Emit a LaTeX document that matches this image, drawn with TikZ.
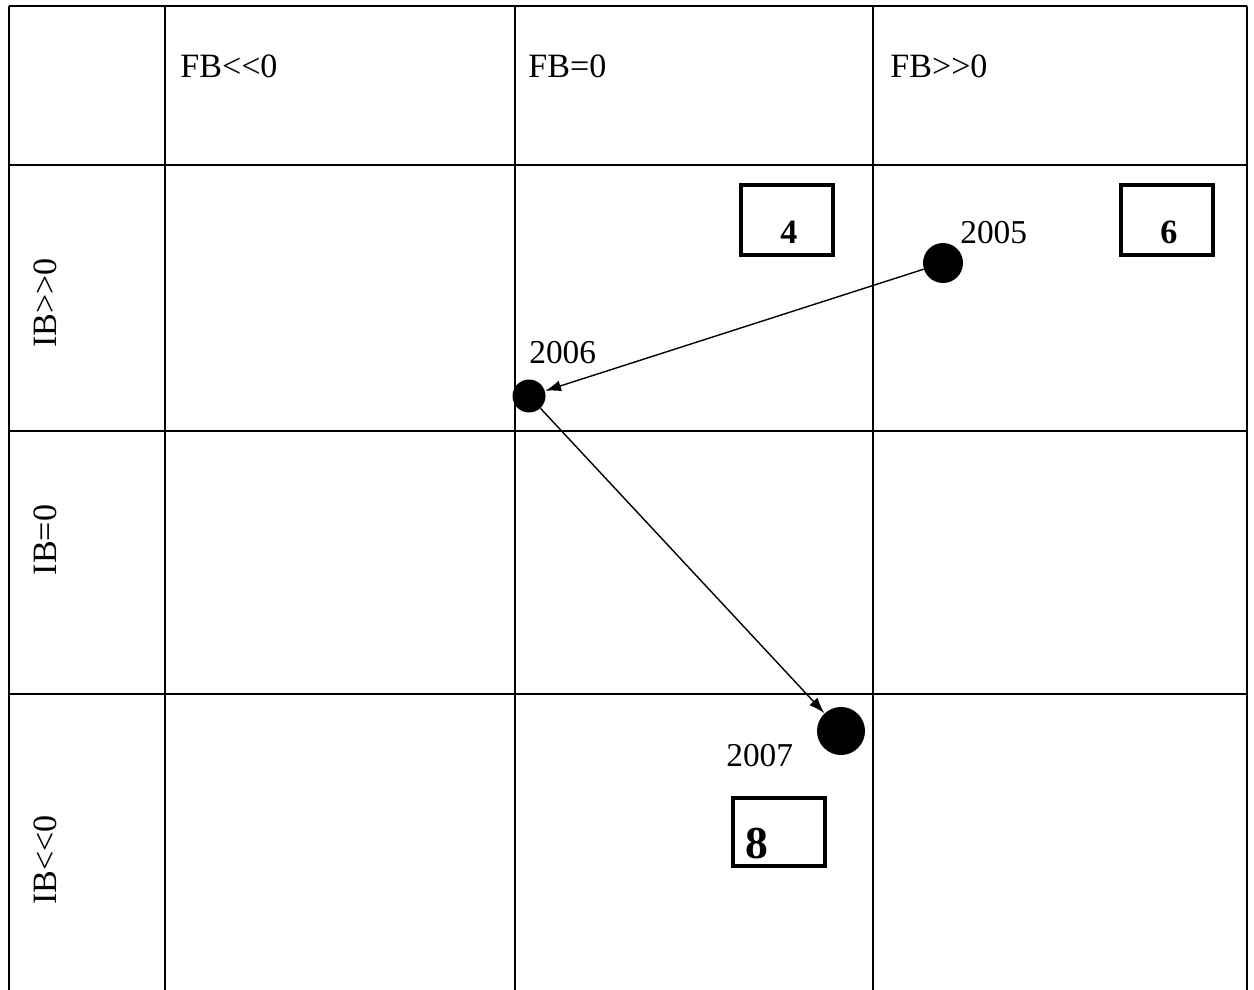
\documentclass[tikz,border=0pt]{standalone}
\usepackage{fontspec}
\setmainfont{Liberation Serif}
\usetikzlibrary{arrows.meta}

\tikzset{
	gridline/.style={line width=1.1pt},
	dot/.style={circle, fill=black, inner sep=0pt},
	head/.style={anchor=base west, inner sep=0pt, font=\fontsize{19.4}{23}\selectfont},
	side/.style={rotate=90, anchor=base, inner sep=0pt, font=\fontsize{19.4}{23}\selectfont},
	year/.style={anchor=base west, inner sep=0pt, font=\fontsize{19}{23}\selectfont},
	numbox/.style={draw, line width=2.3pt, minimum width=1.84cm, minimum height=1.4cm, inner sep=0pt},
	num/.style={anchor=base, font=\bfseries\fontsize{19.4}{23}\selectfont},
	arr/.style={-{Latex[length=0.32cm, width=0.22cm]}, line width=0.8pt}
}

\begin{document}
\begin{tikzpicture}[x=0.02cm, y=-0.02cm]
				\useasboundingbox (0,0) rectangle (1254,990);
				% grid
				\foreach \x in {9,165,515,873,1247}
					\draw[gridline] (\x,6) -- (\x,990);
				\foreach \y in {6,165,431,694}
					\draw[gridline] (9,\y) -- (1247,\y);
				% headings
				\node[head] (fbneg) at (180,78) {FB{<}{<}0};
				\node[head] (fbzero) at (528,78) {FB=0};
				\node[head] (fbpos) at (890,78) {FB{>}{>}0};
				\node[side] (ibpos) at (56,303) {IB{>}{>}0};
				\node[side] (ibzero) at (56,540) {IB=0};
				\node[side] (ibneg) at (56,860) {IB{<}{<}0};
				% boxes
				\node[numbox] (b4) at (787,220) {};
				\node[numbox] (b6) at (1167,220) {};
				\node[numbox, minimum height=1.36cm] (b8) at (779,832) {};
				\node[num] (n4) at (789,243) {4};
				\node[num] (n6) at (1169,243) {6};
				\node[num, font=\bfseries\fontsize{26}{30}\selectfont] (n8) at (757,858) {8};
				% years
				\node[dot, minimum size=0.8cm] (d2005) at (943,263) {};
				\node[dot, minimum size=0.66cm] (d2006) at (529,396) {};
				\node[dot, minimum size=0.96cm] (d2007) at (841,731) {};
				\node[year] (y2005) at (960,243) {2005};
				\node[year] (y2006) at (529,363) {2006};
				\node[year] (y2007) at (726,766) {2007};
				\draw[arr] (d2005) -- (d2006);
				\draw[arr] (d2006) -- (d2007);
\end{tikzpicture}
\end{document}
